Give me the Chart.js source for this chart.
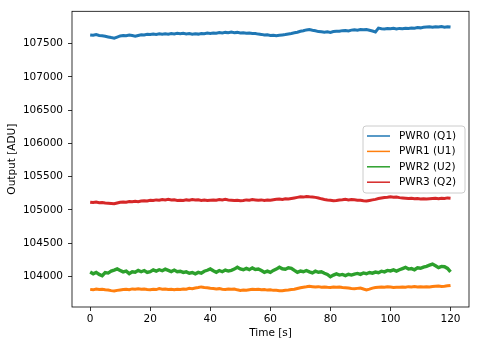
<!DOCTYPE html>
<html>
<head>
<meta charset="utf-8">
<script src="https://cdn.jsdelivr.net/npm/chart.js@4/dist/chart.umd.min.js"></script>
<style>
  html, body { margin: 0; padding: 0; background: #fff; }
  #wrap { width: 480px; height: 347px; }
</style>
</head>
<body>
<div id="wrap"><canvas id="c" width="480" height="347"></canvas></div>
<script>
// Sample times in seconds (one sample per second)
const timeS = Array.from({ length: 121 }, (_, i) => i);

const seriesNames = ['PWR0 (Q1)', 'PWR1 (U1)', 'PWR2 (U2)', 'PWR3 (Q2)'];
const seriesColors = ['#1f77b4', '#ff7f0e', '#2ca02c', '#d62728'];

// Detector output per channel [ADU]
const pwr0 = [
  107630,107625,107635,107622,107618,107610,107600,107590,107582,107598,
  107615,107622,107618,107628,107620,107612,107622,107632,107628,107640,
  107636,107645,107638,107648,107640,107646,107640,107650,107644,107654,
  107648,107655,107645,107650,107640,107646,107642,107652,107648,107658,
  107652,107660,107655,107665,107660,107668,107662,107672,107664,107668,
  107658,107662,107654,107658,107650,107652,107642,107638,107628,107632,
  107622,107626,107618,107625,107630,107636,107645,107652,107662,107670,
  107685,107692,107705,107712,107700,107692,107680,107676,107670,107676,
  107668,107680,107686,107684,107694,107696,107690,107702,107706,107700,
  107710,107706,107712,107700,107688,107675,107732,107722,107718,107726,
  107722,107730,107720,107728,107722,107730,107726,107734,107730,107740,
  107736,107744,107748,107752,107746,107754,107748,107756,107746,107752,
  107748
];
const pwr1 = [
  103805,103798,103810,103802,103808,103798,103794,103786,103780,103790,
  103796,103802,103806,103800,103812,103806,103814,103806,103812,103804,
  103798,103808,103802,103816,103808,103812,103804,103808,103798,103806,
  103804,103812,103808,103820,103816,103826,103832,103842,103834,103830,
  103822,103818,103812,103816,103806,103804,103812,103806,103810,103798,
  103790,103796,103792,103800,103806,103802,103808,103798,103802,103794,
  103798,103790,103792,103786,103784,103792,103796,103802,103806,103818,
  103830,103838,103844,103852,103846,103840,103846,103838,103842,103836,
  103834,103840,103836,103842,103834,103830,103824,103818,103814,103820,
  103826,103810,103796,103808,103824,103832,103838,103842,103836,103844,
  103840,103834,103838,103836,103842,103838,103846,103840,103848,103842,
  103846,103840,103846,103840,103848,103852,103856,103850,103852,103858,
  103864
];
const pwr2 = [
  104065,104040,104060,104030,104010,104058,104050,104080,104095,104112,
  104090,104068,104078,104042,104070,104062,104090,104070,104088,104060,
  104072,104098,104080,104100,104085,104108,104090,104072,104095,104070,
  104078,104060,104068,104048,104058,104038,104060,104050,104078,104092,
  104112,104085,104062,104088,104070,104095,104080,104092,104110,104138,
  104112,104100,104120,104102,104128,104105,104112,104088,104062,104080,
  104060,104090,104110,104138,104115,104108,104130,104122,104090,104062,
  104080,104070,104088,104068,104052,104078,104062,104070,104048,104030,
  103995,104020,104038,104020,104030,104012,104032,104020,104035,104045,
  104030,104052,104040,104058,104048,104065,104055,104078,104068,104090,
  104082,104098,104080,104100,104118,104136,104110,104118,104100,104128,
  104122,104140,104152,104168,104185,104160,104132,104150,104145,104120,
  104068
];
const pwr3 = [
  105115,105110,105118,105108,105112,105104,105100,105096,105092,105104,
  105115,105120,105116,105126,105122,105130,105124,105132,105138,105134,
  105145,105140,105150,105146,105156,105150,105158,105148,105152,105142,
  105146,105140,105150,105144,105154,105148,105152,105142,105148,105140,
  105146,105150,105144,105156,105150,105158,105150,105146,105140,105144,
  105136,105142,105150,105146,105154,105150,105144,105150,105142,105148,
  105144,105152,105158,105162,105156,105166,105164,105172,105180,105188,
  105196,105192,105202,105196,105194,105188,105178,105166,105156,105148,
  105144,105136,105140,105148,105152,105158,105150,105156,105152,105146,
  105144,105138,105134,105142,105150,105158,105170,105178,105186,105190,
  105196,105190,105194,105184,105180,105176,105172,105176,105168,105170,
  105164,105168,105162,105166,105170,105174,105168,105176,105170,105180,
  105176
];
const seriesValues = [pwr0, pwr1, pwr2, pwr3];

// Axis ticks
const xTicks = [0, 20, 40, 60, 80, 100, 120];
const yTicks = [104000, 104500, 105000, 105500, 106000, 106500, 107000, 107500];

const FONT = 'DejaVu Sans';

// Full box frame around the plot area
const frame = {
  id: 'frame',
  afterDatasetsDraw(chart) {
    const { ctx, chartArea: a } = chart;
    ctx.save();
    ctx.strokeStyle = '#000';
    ctx.lineWidth = 0.8;
    ctx.strokeRect(a.left, a.top, a.right - a.left, a.bottom - a.top);
    ctx.restore();
  }
};

// Legend box in the right middle of the plot
const boxLegend = {
  id: 'boxLegend',
  afterDraw(chart) {
    const { ctx, chartArea: a } = chart;
    const bx = a.right - 106, by = 126, bw = 102, bh = 67, r = 3;
    ctx.save();
    ctx.beginPath();
    ctx.moveTo(bx + r, by);
    ctx.arcTo(bx + bw, by, bx + bw, by + bh, r);
    ctx.arcTo(bx + bw, by + bh, bx, by + bh, r);
    ctx.arcTo(bx, by + bh, bx, by, r);
    ctx.arcTo(bx, by, bx + bw, by, r);
    ctx.closePath();
    ctx.fillStyle = 'rgba(255,255,255,0.8)';
    ctx.fill();
    ctx.strokeStyle = '#cccccc';
    ctx.lineWidth = 1;
    ctx.stroke();
    ctx.font = '10.5px "' + FONT + '"';
    ctx.textBaseline = 'middle';
    ctx.fillStyle = '#000';
    chart.data.datasets.forEach((ds, i) => {
      const y = by + 10 + i * 15.4;
      ctx.strokeStyle = ds.borderColor;
      ctx.lineWidth = 1.5;
      ctx.beginPath();
      ctx.moveTo(bx + 4, y);
      ctx.lineTo(bx + 27, y);
      ctx.stroke();
      ctx.fillText(ds.label, bx + 36, y);
    });
    ctx.restore();
  }
};

new Chart(document.getElementById('c'), {
  type: 'line',
  data: {
    datasets: seriesValues.map((vals, i) => ({
      label: seriesNames[i],
      data: timeS.map((t, k) => ({ x: t, y: vals[k] })),
      borderColor: seriesColors[i],
      backgroundColor: seriesColors[i],
      borderWidth: i === 2 ? 3.4 : 3,
      pointRadius: 0,
      tension: 0,
      fill: false
    }))
  },
  options: {
    responsive: false,
    animation: false,
    events: [],
    layout: { padding: { left: 0, top: 11, right: 11, bottom: 0 } },
    plugins: { legend: { display: false }, tooltip: { enabled: false } },
    scales: {
      x: {
        type: 'linear',
        min: -6.05,
        max: 126.15,
        afterBuildTicks(s) { s.ticks = xTicks.map(v => ({ value: v })); },
        afterFit(s) { s.height = 40; },
        border: { display: false },
        grid: { drawOnChartArea: false, drawTicks: true, tickLength: 4, tickColor: '#000', lineWidth: 0.8 },
        ticks: { color: '#000', padding: 2, maxRotation: 0, font: { family: FONT, size: 10.5 } },
        title: { display: true, text: 'Time [s]', color: '#000', padding: { top: 2, bottom: 7 }, font: { family: FONT, size: 10.5 } }
      },
      y: {
        type: 'linear',
        min: 103540,
        max: 107985,
        afterBuildTicks(s) { s.ticks = yTicks.map(v => ({ value: v })); },
        afterFit(s) { s.width = 72; },
        border: { display: false },
        grid: { drawOnChartArea: false, drawTicks: true, tickLength: 4, tickColor: '#000', lineWidth: 0.8 },
        ticks: { color: '#000', padding: 5, font: { family: FONT, size: 10.5 }, callback: v => String(v) },
        title: { display: true, text: 'Output [ADU]', color: '#000', padding: { top: 6, bottom: 6 }, font: { family: FONT, size: 10.5 } }
      }
    }
  },
  plugins: [frame, boxLegend]
});
</script>
</body>
</html>
